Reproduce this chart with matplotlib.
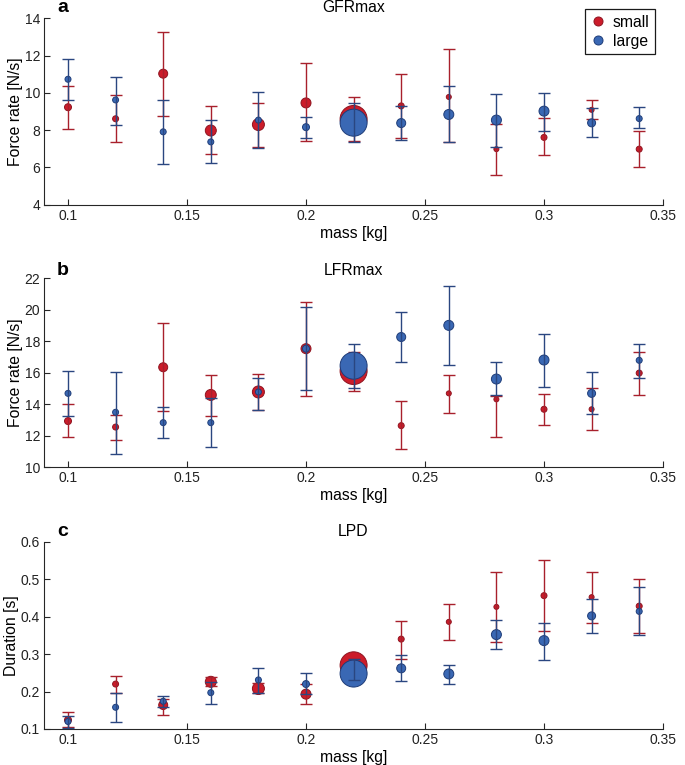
import numpy as np
import matplotlib
matplotlib.use('Agg')
from matplotlib import pyplot as plt
from matplotlib.lines import Line2D
from matplotlib.ticker import FormatStrFormatter

plt.rcParams['font.family'] = ['Liberation Sans', 'DejaVu Sans']

mass = [0.10, 0.12, 0.14, 0.16, 0.18, 0.20, 0.22, 0.24, 0.26, 0.28, 0.30, 0.32, 0.34]

# marker diameters (px) for each mass, shared by all panels
small_size = [7, 6, 9, 11, 12, 10, 27, 6, 5, 5, 6, 5, 6]
large_size = [6, 6, 6, 6, 6, 7, 27, 9, 10, 10, 10, 8, 6]

# GFRmax [N/s]
gfr_small = [9.23, 8.61, 11.03, 7.98, 8.30, 9.46, 8.60, 9.30, 9.78, 6.98, 7.61, 9.09, 6.98]
gfr_small_lo = [8.07, 7.34, 8.78, 6.73, 7.09, 7.41, 7.43, 7.57, 7.34, 5.59, 6.64, 8.59, 6.04]
gfr_small_hi = [10.36, 9.89, 13.25, 9.29, 9.46, 11.59, 9.78, 11.0, 12.34, 8.32, 8.64, 9.62, 7.95]
gfr_large = [10.73, 9.62, 7.91, 7.37, 8.54, 8.16, 8.40, 8.38, 8.84, 8.54, 9.02, 8.39, 8.62]
gfr_large_lo = [9.62, 8.28, 6.20, 6.23, 7.02, 7.59, 7.39, 7.45, 7.34, 7.07, 7.98, 7.63, 8.09]
gfr_large_hi = [11.82, 10.87, 9.64, 8.55, 10.07, 8.70, 9.43, 9.27, 10.36, 9.95, 9.98, 9.18, 9.23]

# LFRmax [N/s]
lfr_small = [12.93, 12.55, 16.35, 14.59, 14.78, 17.53, 16.11, 12.64, 14.69, 14.31, 13.68, 13.68, 15.98]
lfr_small_lo = [11.90, 11.75, 13.59, 13.25, 13.65, 14.54, 14.84, 11.13, 13.46, 11.92, 12.66, 12.34, 14.59]
lfr_small_hi = [14.03, 13.32, 19.14, 15.84, 15.94, 20.49, 17.34, 14.20, 15.84, 14.55, 14.65, 15.03, 17.32]
lfr_large = [14.69, 13.49, 12.83, 12.83, 14.78, 17.53, 16.45, 18.27, 19.01, 15.60, 16.81, 14.69, 16.79]
lfr_large_lo = [13.27, 10.82, 11.87, 11.28, 13.65, 14.88, 15.05, 16.68, 16.47, 14.59, 15.11, 13.36, 15.68]
lfr_large_hi = [16.13, 16.07, 13.84, 14.38, 15.68, 20.16, 17.83, 19.86, 21.49, 16.68, 18.46, 16.05, 17.83]

# LPD [s]
lpd_small = [0.124, 0.220, 0.164, 0.226, 0.208, 0.193, 0.270, 0.340, 0.386, 0.426, 0.456, 0.452, 0.428]
lpd_small_lo = [0.105, 0.197, 0.137, 0.216, 0.197, 0.168, 0.255, 0.287, 0.338, 0.333, 0.362, 0.384, 0.357]
lpd_small_hi = [0.145, 0.242, 0.179, 0.240, 0.223, 0.220, 0.287, 0.389, 0.434, 0.518, 0.552, 0.519, 0.500]
lpd_large = [0.120, 0.158, 0.174, 0.197, 0.231, 0.220, 0.248, 0.262, 0.247, 0.352, 0.336, 0.402, 0.414]
lpd_large_lo = [0.102, 0.119, 0.158, 0.168, 0.197, 0.193, 0.231, 0.229, 0.221, 0.313, 0.284, 0.357, 0.351]
lpd_large_hi = [0.135, 0.197, 0.189, 0.226, 0.264, 0.250, 0.286, 0.298, 0.271, 0.391, 0.384, 0.446, 0.478]

RED = '#cc1c2a'
RED_EDGE = '#8e1420'
RED_BAR = '#a8202c'
BLUE = '#3a68b4'
BLUE_EDGE = '#1e3c78'
BLUE_BAR = '#2a4680'
AX_COL = '#262626'

W, H = 685, 765


def rect(top, bottom):
    # axes rectangle from pixel rows
    return [44.2 / W, 1 - bottom / H, 618.8 / W, (bottom - top) / H]


def draw_series(ax, mean, lo, hi, sizes, face, edge, bar, z):
    mean = np.array(mean)
    err = [mean - np.array(lo), np.array(hi) - mean]
    s = (np.array(sizes) * 0.72) ** 2
    ax.scatter(mass, mean, s=s, c=face, edgecolors=edge, linewidths=0.7, zorder=z)
    ax.errorbar(mass, mean, yerr=err, fmt='none', ecolor=bar, elinewidth=1.0,
                capsize=4.6, capthick=1.0, zorder=z + 1)


def draw_panel(ax, small, large, ylim, yticks, ylabel):
    draw_series(ax, *small, small_size, RED, RED_EDGE, RED_BAR, 2)
    draw_series(ax, *large, large_size, BLUE, BLUE_EDGE, BLUE_BAR, 4)
    ax.set_xlim(0.09, 0.35)
    ax.set_ylim(*ylim)
    ax.set_xticks([0.1, 0.15, 0.2, 0.25, 0.3, 0.35])
    ax.xaxis.set_major_formatter(FormatStrFormatter('%g'))
    ax.set_yticks(yticks)
    ax.yaxis.set_major_formatter(FormatStrFormatter('%g'))
    for side in ('top', 'right'):
        ax.spines[side].set_visible(False)
    for side in ('left', 'bottom'):
        ax.spines[side].set_color(AX_COL)
        ax.spines[side].set_linewidth(0.8)
    ax.tick_params(direction='in', length=4, width=0.8, labelsize=10,
                   pad=3, colors=AX_COL, labelcolor='#222222')
    ax.set_xlabel('mass [kg]', fontsize=11.3, labelpad=2)
    ax.set_ylabel(ylabel, fontsize=11.3, labelpad=1)


fig = plt.figure(figsize=(W / 100, H / 100), dpi=100)

ax_a = fig.add_axes(rect(18.3, 204.7))
draw_panel(ax_a, (gfr_small, gfr_small_lo, gfr_small_hi),
           (gfr_large, gfr_large_lo, gfr_large_hi),
           (4, 14), [4, 6, 8, 10, 12, 14], 'Force rate [N/s]')

ax_b = fig.add_axes(rect(278.3, 467.2))
draw_panel(ax_b, (lfr_small, lfr_small_lo, lfr_small_hi),
           (lfr_large, lfr_large_lo, lfr_large_hi),
           (10, 22), [10, 12, 14, 16, 18, 20, 22], 'Force rate [N/s]')

ax_c = fig.add_axes(rect(541.7, 729.0))
draw_panel(ax_c, (lpd_small, lpd_small_lo, lpd_small_hi),
           (lpd_large, lpd_large_lo, lpd_large_hi),
           (0.1, 0.6), [0.1, 0.2, 0.3, 0.4, 0.5, 0.6], 'Duration [s]')

# panel letters and titles
for letter, title, base in (('a', 'GFRmax', 12.0), ('b', 'LFRmax', 275.0), ('c', 'LPD', 536.0)):
    fig.text(57 / W, 1 - base / H, letter, fontsize=14, fontweight='bold', va='baseline')
    fig.text(353.5 / W, 1 - base / H, title, fontsize=11.3, ha='center', va='baseline')

handles = [Line2D([], [], ls='none', marker='o', ms=6.5, mfc=RED, mec=RED_EDGE, mew=0.7),
           Line2D([], [], ls='none', marker='o', ms=6.5, mfc=BLUE, mec=BLUE_EDGE, mew=0.7)]
leg = fig.legend(handles, ['small', 'large'], loc='upper right',
                 bbox_to_anchor=(655 / W, 1 - 9.3 / H), fontsize=11.3,
                 fancybox=False, framealpha=1, edgecolor='#1a1a1a',
                 handlelength=0.9, handletextpad=0.5, labelspacing=0.25,
                 borderpad=0.35, borderaxespad=0)
leg.get_frame().set_linewidth(0.9)

fig.savefig('out.png', dpi=100)
